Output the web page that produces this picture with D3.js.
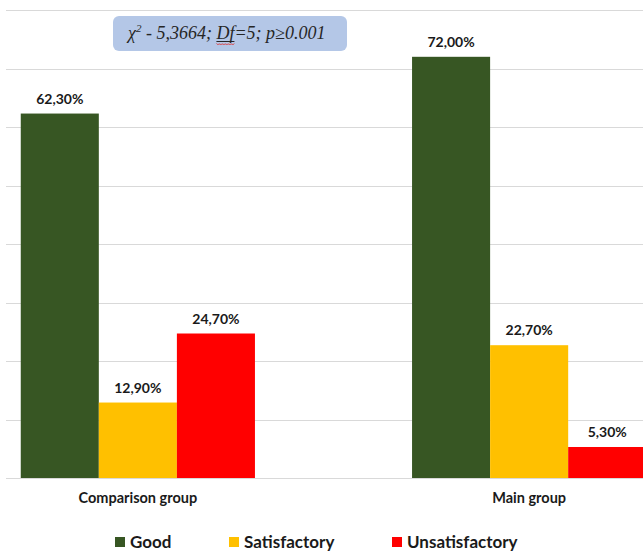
<!DOCTYPE html>
<html>
<head>
<meta charset="utf-8">
<script src="https://cdn.jsdelivr.net/npm/d3@7"></script>
<style>
  html, body { margin: 0; padding: 0; background: #fff; }
  svg { display: block; }
</style>
</head>
<body>
<div id="chart"></div>
<script>
// data
const groups = ["Comparison group", "Main group"];
const seriesNames = ["Good", "Satisfactory", "Unsatisfactory"];
const goodValues = [62.3, 72.0];
const satisfactoryValues = [12.9, 22.7];
const unsatisfactoryValues = [24.7, 5.3];
const statText = ["χ", "2", " - 5,3664; ", "Df", "=5; p≥0.001"];

const fullwidth = 643;
const fullheight = 551;
const colors = ["#375623", "#ffc000", "#ff0000"];

const rows = groups.map((g, i) => ({
  group: g,
  values: [goodValues[i], satisfactoryValues[i], unsatisfactoryValues[i]]
}));

const svg = d3.select("#chart")
  .append("svg")
  .attr("width", fullwidth)
  .attr("height", fullheight);

// the plot is cut on both sides in the original picture
const x0 = d3.scaleBand()
  .domain(groups)
  .range([-57.5, 724.5])
  .paddingInner(0.4015)
  .paddingOuter(0.2);

const x1 = d3.scaleBand()
  .domain(seriesNames)
  .range([0, x0.bandwidth()]);

const y = d3.scaleLinear()
  .domain([0, 80])
  .range([478, 10]);

const pct = d3.formatLocale({ decimal: ",", thousands: " ", grouping: [3], currency: ["", ""] }).format(".2f");

// gridlines
svg.append("g")
  .selectAll("line")
  .data(y.ticks(8))
  .enter().append("line")
  .attr("x1", 6)
  .attr("x2", fullwidth)
  .attr("y1", d => Math.round(y(d)) + 0.5)
  .attr("y2", d => Math.round(y(d)) + 0.5)
  .attr("stroke", "#d9d9d9")
  .attr("stroke-width", 1);

// bars
const grp = svg.append("g")
  .selectAll("g")
  .data(rows)
  .enter().append("g")
  .attr("transform", d => `translate(${x0(d.group)},0)`);

grp.selectAll("rect")
  .data(d => d.values.map((v, k) => ({ name: seriesNames[k], value: v, k })))
  .enter().append("rect")
  .attr("x", d => x1(d.name))
  .attr("width", x1.bandwidth())
  .attr("y", d => y(d.value))
  .attr("height", d => y(0) - y(d.value))
  .attr("fill", d => colors[d.k]);

grp.selectAll("text")
  .data(d => d.values.map((v, k) => ({ name: seriesNames[k], value: v })))
  .enter().append("text")
  .attr("x", d => x1(d.name) + x1.bandwidth() / 2)
  .attr("y", d => y(d.value) - 10)
  .attr("text-anchor", "middle")
  .style("font-family", "Lato, 'Open Sans', sans-serif")
  .style("font-weight", "bold")
  .style("font-size", "14px")
  .style("fill", "#1a1a1a")
  .text(d => pct(d.value) + "%");

// category labels
svg.append("g")
  .selectAll("text")
  .data(groups)
  .enter().append("text")
  .attr("x", d => x0(d) + x0.bandwidth() / 2)
  .attr("y", 503)
  .attr("text-anchor", "middle")
  .style("font-family", "Lato, 'Open Sans', sans-serif")
  .style("font-weight", "bold")
  .style("font-size", "14.5px")
  .style("fill", "#1a1a1a")
  .text(d => d);

// legend
const legendX = [115, 229, 392];
const legend = svg.append("g")
  .selectAll("g")
  .data(seriesNames)
  .enter().append("g")
  .attr("transform", (d, i) => `translate(${legendX[i]},537)`);

legend.append("rect")
  .attr("width", 10)
  .attr("height", 10)
  .attr("fill", (d, i) => colors[i]);

legend.append("text")
  .attr("x", 15)
  .attr("y", 11)
  .style("font-family", "Lato, 'Open Sans', sans-serif")
  .style("font-weight", "bold")
  .style("font-size", "17px")
  .style("fill", "#1a1a1a")
  .text(d => d);

// statistics box
const box = svg.append("g").attr("transform", "translate(113,16)");
box.append("rect")
  .attr("width", 234)
  .attr("height", 35)
  .attr("rx", 6)
  .attr("fill", "#b4c7e7");

const stat = box.append("text")
  .attr("x", 15)
  .attr("y", 23)
  .style("font-family", "'Liberation Serif', 'Times New Roman', serif")
  .style("font-style", "italic")
  .style("font-size", "18px")
  .style("fill", "#262626");

stat.append("tspan").text(statText[0]);
stat.append("tspan").attr("dy", -7).style("font-size", "11px").text(statText[1]);
stat.append("tspan").attr("dy", 7).text(statText[2]);
stat.append("tspan").text(statText[3]);
stat.append("tspan").text(statText[4]);

// underline and spell-check wave under "Df"
const dfStart = statText[0].length + statText[1].length + statText[2].length;
const ext = [
  stat.node().getStartPositionOfChar(dfStart).x,
  stat.node().getEndPositionOfChar(dfStart + 1).x
];

box.append("line")
  .attr("x1", ext[0]).attr("x2", ext[1])
  .attr("y1", 25.5).attr("y2", 25.5)
  .attr("stroke", "#262626").attr("stroke-width", 1);

const wave = d3.range(ext[0], ext[1] + 0.1, 1.5).map((xv, i) => [xv, 28 + (i % 2 ? 1 : -0.5)]);
box.append("path")
  .attr("d", d3.line().curve(d3.curveBasis)(wave))
  .attr("fill", "none")
  .attr("stroke", "#e03030")
  .attr("stroke-width", 0.9);
</script>
</body>
</html>
